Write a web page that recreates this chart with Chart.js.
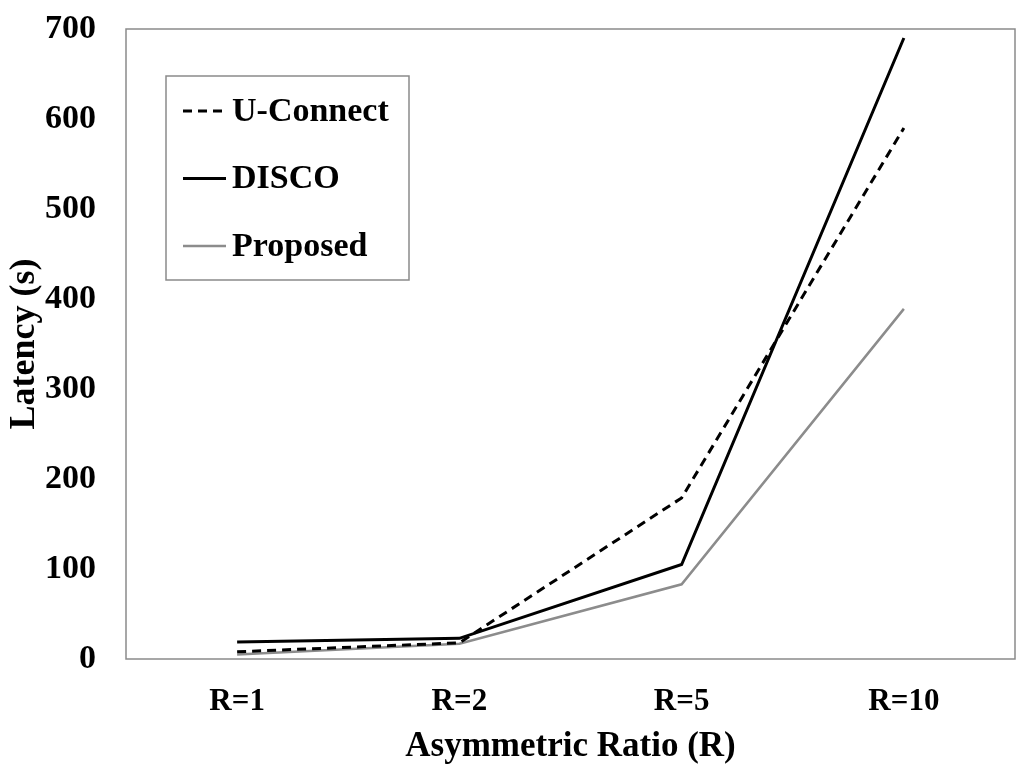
<!DOCTYPE html>
<html>
<head>
<meta charset="utf-8">
<script src="https://cdn.jsdelivr.net/npm/chart.js@4/dist/chart.umd.min.js"></script>
<style>
  html, body { margin: 0; padding: 0; background: #fff; }
  #wrap { width: 1024px; height: 768px; }
</style>
</head>
<body>
<div id="wrap"><canvas id="latencyChart" width="1024" height="768"></canvas></div>
<script>
const categories = ['R=1', 'R=2', 'R=5', 'R=10'];
const uConnect = [8, 18, 179, 590];
const disco = [19, 23, 105, 690];
const proposed = [5, 17, 83, 389];
const yTicks = [0, 100, 200, 300, 400, 500, 600, 700];

const serif = '"Liberation Serif", "Times New Roman", serif';

// cadre gris autour de la zone de tracé
const frame = {
  id: 'frame',
  afterDraw(chart) {
    const a = chart.chartArea, c = chart.ctx;
    c.save();
    c.strokeStyle = '#8a8a8a';
    c.lineWidth = 1.5;
    c.strokeRect(a.left, a.top, a.right - a.left, a.bottom - a.top);
    c.restore();
  }
};

// légende encadrée, une entrée par ligne
const boxLegend = {
  id: 'boxLegend',
  afterDraw(chart) {
    const c = chart.ctx;
    const x0 = 166, y0 = 76, w = 243, h = 204;
    c.save();
    c.fillStyle = '#fff';
    c.fillRect(x0, y0, w, h);
    c.strokeStyle = '#8a8a8a';
    c.lineWidth = 1.5;
    c.strokeRect(x0, y0, w, h);
    c.font = 'bold 34px ' + serif;
    c.textBaseline = 'middle';
    chart.data.datasets.forEach((ds, i) => {
      const y = 111 + i * 67.5;
      c.strokeStyle = ds.borderColor;
      c.lineWidth = ds.borderWidth;
      c.setLineDash(ds.borderDash || []);
      c.beginPath();
      c.moveTo(183, y);
      c.lineTo(226, y);
      c.stroke();
      c.setLineDash([]);
      c.fillStyle = '#000';
      c.fillText(ds.label, 232, y + 1);
    });
    c.restore();
  }
};

new Chart(document.getElementById('latencyChart').getContext('2d'), {
  type: 'line',
  data: {
    labels: categories,
    datasets: [
      { label: 'U-Connect', data: uConnect, borderColor: '#000', borderWidth: 3, borderDash: [9, 6], pointRadius: 0, tension: 0, fill: false },
      { label: 'DISCO', data: disco, borderColor: '#000', borderWidth: 3, pointRadius: 0, tension: 0, fill: false },
      { label: 'Proposed', data: proposed, borderColor: '#8c8c8c', borderWidth: 2.5, pointRadius: 0, tension: 0, fill: false }
    ]
  },
  options: {
    responsive: false,
    animation: false,
    layout: { padding: { top: 29, right: 9, left: 0, bottom: 0 } },
    plugins: { legend: { display: false }, tooltip: { enabled: false } },
    scales: {
      x: {
        offset: true,
        grid: { display: false, drawTicks: false },
        border: { display: false },
        ticks: { color: '#000', font: { family: serif, size: 31, weight: 'bold' }, padding: 24 },
        title: { display: true, text: 'Asymmetric Ratio (R)', color: '#000', font: { family: serif, size: 35, weight: 'bold' }, padding: { top: 2, bottom: 0 } },
        afterFit(s) { s.height = 109; s.paddingLeft = 0; s.paddingRight = 0; }
      },
      y: {
        min: 0,
        max: 700,
        afterBuildTicks(s) { s.ticks = yTicks.map(v => ({ value: v })); },
        grid: { display: false, drawTicks: false },
        border: { display: false },
        ticks: { color: '#000', font: { family: serif, size: 34, weight: 'bold' }, padding: 30 },
        title: { display: true, text: 'Latency (s)', color: '#000', font: { family: serif, size: 36, weight: 'bold' }, padding: { top: 3, bottom: 0 } },
        afterFit(s) { s.width = 126; s.paddingTop = 0; s.paddingBottom = 0; }
      }
    }
  },
  plugins: [frame, boxLegend]
});
</script>
</body>
</html>
